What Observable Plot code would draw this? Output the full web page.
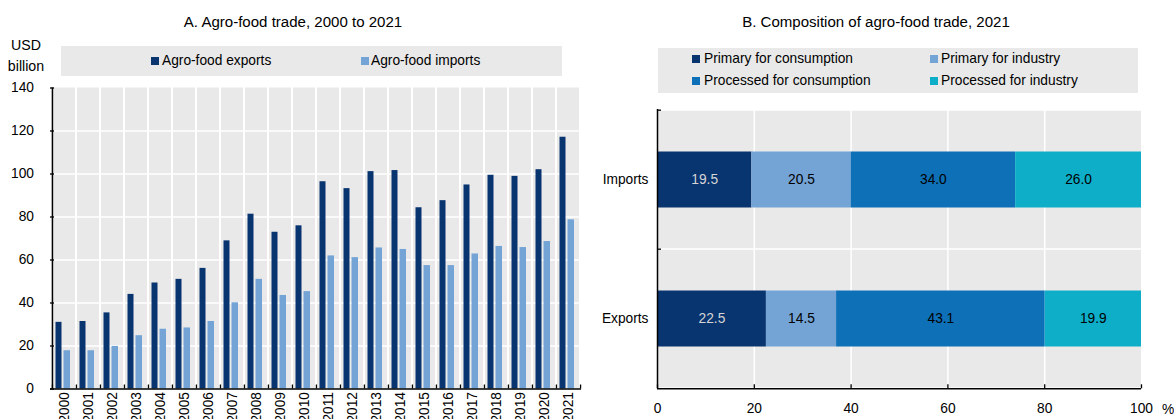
<!DOCTYPE html>
<html>
<head>
<meta charset="utf-8">
<script src="https://cdn.jsdelivr.net/npm/d3@7"></script>
<script src="https://cdn.jsdelivr.net/npm/@observablehq/plot@0.6"></script>
<style>
  html, body { margin: 0; padding: 0; background: #fff; }
  #root { position: relative; width: 1174px; height: 419px; overflow: hidden; }
  .abs { position: absolute; white-space: nowrap; color: #000; }
  .ctr { transform: translate(-50%, -50%); }
  .vc { transform: translateY(-50%); }
  .box { position: absolute; background: #e9e9e9; }
  .sw { position: absolute; width: 8px; height: 8px; transform: translateY(-50%); }
</style>
</head>
<body>
<div id="root"></div>
<script>
// ---------------- data ----------------
const years = ["2000","2001","2002","2003","2004","2005","2006","2007","2008","2009","2010",
               "2011","2012","2013","2014","2015","2016","2017","2018","2019","2020","2021"];
const agroExports = [31.0, 31.4, 35.4, 44.0, 49.3, 51.0, 56.1, 68.9, 81.3, 72.9, 75.9,
                     96.4, 93.2, 101.1, 101.6, 84.3, 87.6, 94.9, 99.4, 98.9, 102.0, 117.1];
const agroImports = [17.8, 17.8, 19.8, 24.8, 27.8, 28.4, 31.4, 40.1, 51.0, 43.5, 45.3,
                     61.9, 61.1, 65.6, 64.9, 57.4, 57.4, 62.8, 66.3, 65.8, 68.6, 78.7];
const yTicksA = [0, 20, 40, 60, 80, 100, 120, 140];

const flows = ["Imports", "Exports"];
const components = ["Primary for consumption", "Primary for industry",
                    "Processed for consumption", "Processed for industry"];
const importsShare = [19.5, 20.5, 34.0, 26.0];
const exportsShare = [22.5, 14.5, 43.1, 19.9];
const xTicksB = [0, 20, 40, 60, 80, 100];

// ---------------- styling ----------------
const C_EXP = "#08346f", C_IMP = "#74a4d5";
const C_COMP = ["#08346f", "#74a4d5", "#0e71b7", "#0eaec9"];
const GREY = "#e9e9e9";

function hasFont(name) {
  const ctx = document.createElement("canvas").getContext("2d");
  const s = "abcdefghijklmnopqrstuvwxyz0123456789ABCDEFG";
  ctx.font = "40px monospace"; const a = ctx.measureText(s).width;
  ctx.font = `40px '${name}', monospace`; const b = ctx.measureText(s).width;
  return Math.abs(a - b) > 0.5;
}
const narrow = hasFont("Liberation Sans Narrow") || hasFont("Arial Narrow");
const FAM = narrow ? "'Liberation Sans Narrow','Arial Narrow',sans-serif" : "'Liberation Sans',Arial,sans-serif";
const fs = s => (narrow ? s : s * 0.86) + "px";

const root = document.getElementById("root");
root.style.fontFamily = FAM;
function addText(txt, x, y, size, cls) {
  const d = document.createElement("div");
  d.className = "abs " + cls; d.textContent = txt;
  d.style.left = x + "px"; d.style.top = y + "px"; d.style.fontSize = fs(size); d.style.lineHeight = "1";
  root.appendChild(d); return d;
}
function addBox(x, y, w, h) {
  const d = document.createElement("div"); d.className = "box";
  Object.assign(d.style, {left: x + "px", top: y + "px", width: w + "px", height: h + "px"});
  root.appendChild(d);
}
function addSwatch(color, x, y) {
  const d = document.createElement("div"); d.className = "sw";
  Object.assign(d.style, {left: x + "px", top: y + "px", background: color});
  root.appendChild(d);
}

// titles
addText("A. Agro-food trade, 2000 to 2021", 293, 22, 17.5, "ctr");
addText("B. Composition of agro-food trade, 2021", 876, 22, 17.5, "ctr");
// unit label
addText("USD", 26, 45, 16.5, "ctr");
addText("billion", 26, 66, 16.5, "ctr");

// legend A
addBox(61, 46, 501, 30);
addSwatch(C_EXP, 151, 61); addText("Agro-food exports", 162, 61, 16, "vc");
addSwatch(C_IMP, 361, 61); addText("Agro-food imports", 371, 61, 16, "vc");

// legend B
addBox(658, 47.5, 480, 45);
addSwatch(C_COMP[0], 692, 59); addText(components[0], 704, 59, 16, "vc");
addSwatch(C_COMP[1], 930, 59); addText(components[1], 941, 59, 16, "vc");
addSwatch(C_COMP[2], 692, 81); addText(components[2], 704, 81, 16, "vc");
addSwatch(C_COMP[3], 930, 81); addText(components[3], 941, 81, 16, "vc");

// ---------------- Panel A ----------------
const tradeRows = years.map((y, i) => ({year: y, exports: agroExports[i], imports: agroImports[i]}));
const WA = 587, HA = 339, mlA = 50, mrA = 6, mtA = 7.5, mbA = 30.5;
const bwA = (WA - mlA - mrA) / years.length;
const yMaxA = yTicksA[yTicksA.length - 1];

const chartA = Plot.plot({
  width: WA, height: HA, marginLeft: mlA, marginRight: mrA, marginTop: mtA, marginBottom: mbA,
  x: {domain: years, padding: 0, axis: null},
  y: {domain: [0, yMaxA], axis: null},
  style: {fontFamily: FAM, fontSize: fs(16), color: "#000", background: "transparent", overflow: "visible"},
  marks: [
    Plot.barY(years, {x: d => d, y1: 0, y2: yMaxA, fill: GREY, insetLeft: 1, insetRight: 1}),
    Plot.ruleY(yTicksA.slice(1, -1), {stroke: "white", strokeWidth: 1.5}),
    Plot.barY(tradeRows, {x: "year", y: "exports", fill: C_EXP, insetLeft: 3.5, insetRight: 14.5}),
    Plot.barY(tradeRows, {x: "year", y: "imports", fill: C_IMP, insetLeft: 11.5, insetRight: 6}),
    Plot.ruleY([0], {stroke: "#000", strokeWidth: 1.5}),
    Plot.ruleX([years[0]], {dx: -bwA / 2, stroke: "#000", strokeWidth: 1.5}),
    Plot.axisY({ticks: yTicksA, tickSize: 0, tickPadding: 16.5, tickFormat: d => d, label: null}),
    Plot.axisY({ticks: yTicksA, tickSize: -4, tickFormat: () => "", strokeWidth: 1.3, label: null}),
    Plot.axisX({tickSize: 0, tickPadding: 3, tickRotate: -90, tickFormat: d => d, label: null}),
    Plot.axisX({tickSize: -4, tickFormat: () => "", dx: -bwA / 2, strokeWidth: 1.3, label: null}),
    Plot.axisX({ticks: [years[years.length - 1]], tickSize: -4, tickFormat: () => "", dx: bwA / 2, strokeWidth: 1.3, label: null})
  ]
});
Object.assign(chartA.style, {position: "absolute", left: "0px", top: "80px"});
root.appendChild(chartA);

// ---------------- Panel B ----------------
const shareRows = flows.flatMap(f => components.map((c, i) => ({
  flow: f, component: c, value: (f === "Imports" ? importsShare : exportsShare)[i]
})));
const WB = 587, HB = 319, mlB = 70, mrB = 33, mtB = 9, mbB = 30.7;
const bwB = (HB - mtB - mbB) / flows.length;
const xMaxB = xTicksB[xTicksB.length - 1];
const fmt = d => d.value.toFixed(1);

const chartB = Plot.plot({
  width: WB, height: HB, marginLeft: mlB, marginRight: mrB, marginTop: mtB, marginBottom: mbB,
  x: {domain: [0, xMaxB], axis: null},
  y: {domain: flows, padding: 0, axis: null},
  color: {domain: components, range: C_COMP},
  style: {fontFamily: FAM, fontSize: fs(16), color: "#000", background: "transparent", overflow: "visible"},
  marks: [
    Plot.barX(flows, {y: d => d, x1: 0, x2: xMaxB, fill: GREY, insetTop: 0.75, insetBottom: 0.75}),
    Plot.ruleX(xTicksB.slice(1, -1), {stroke: "white", strokeWidth: 1.5}),
    Plot.barX(shareRows, Plot.stackX({y: "flow", x: "value", fill: "component", insetTop: 41.5, insetBottom: 41.5})),
    Plot.text(shareRows, Plot.stackX({y: "flow", x: "value",
      text: d => d.component === components[0] ? fmt(d) : "", fill: "#d6d6d6"})),
    Plot.text(shareRows, Plot.stackX({y: "flow", x: "value",
      text: d => d.component !== components[0] ? fmt(d) : "", fill: "#000"})),
    Plot.ruleX([0], {stroke: "#000", strokeWidth: 1.5}),
    Plot.ruleY([flows[flows.length - 1]], {dy: bwB / 2, stroke: "#000", strokeWidth: 1.5}),
    Plot.axisX({ticks: xTicksB, tickSize: 0, tickPadding: 14, tickFormat: d => d, label: null}),
    Plot.axisX({ticks: xTicksB, tickSize: -4, tickFormat: () => "", strokeWidth: 1.3, label: null}),
    Plot.axisY({tickSize: 0, tickPadding: 9, tickFormat: d => d, label: null}),
    Plot.axisY({tickSize: -4, tickFormat: () => "", dy: -bwB / 2, strokeWidth: 1.3, label: null})
  ]
});
Object.assign(chartB.style, {position: "absolute", left: "587px", top: "100px"});
root.appendChild(chartB);

addText("%", 1168, 410, 16, "ctr");
</script>
</body>
</html>
